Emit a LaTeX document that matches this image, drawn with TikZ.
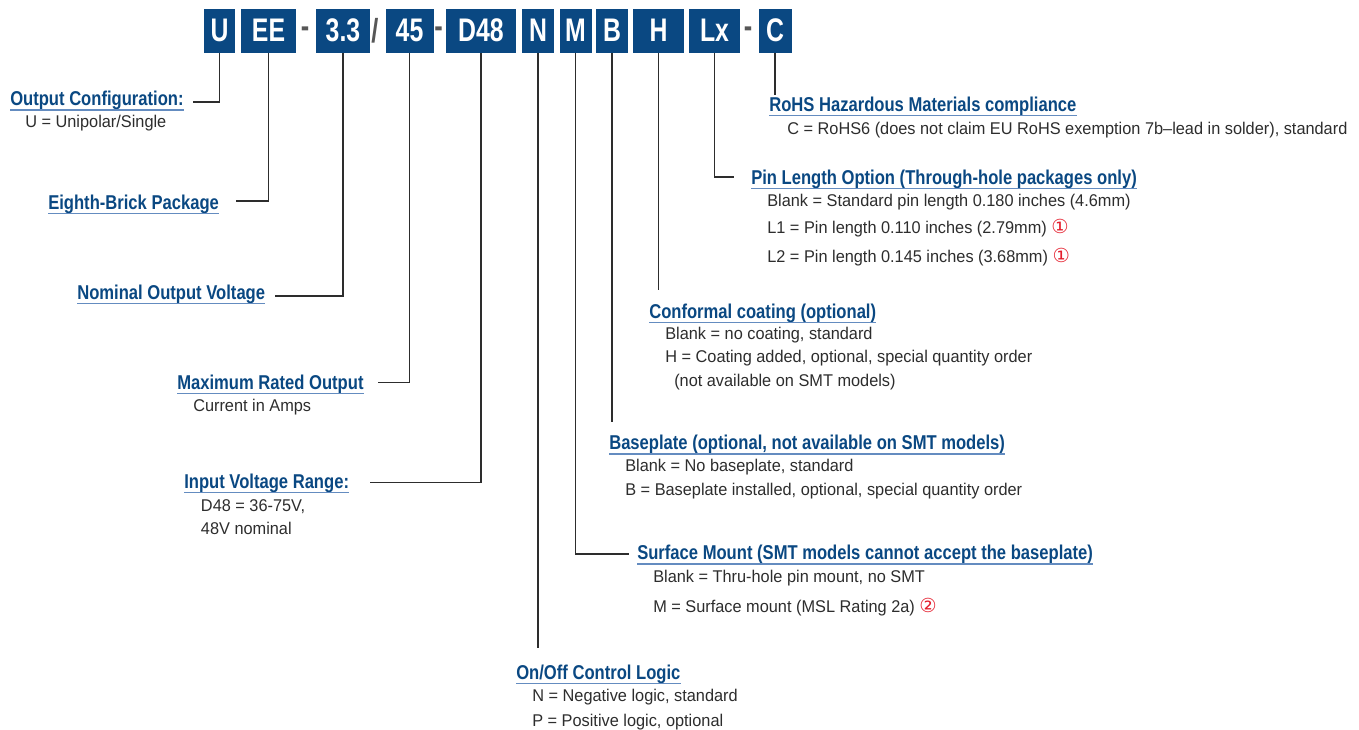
\documentclass[tikz,border=0pt]{standalone}
\usepackage{fontspec}
\setmainfont{Liberation Sans}
\newfontfamily\titlefont{Liberation Sans}[FakeStretch=0.83]
\newfontfamily\codefont{Liberation Sans}[FakeStretch=0.76]
\newfontfamily\bodyfont{Liberation Sans}[FakeStretch=0.96]
\newfontfamily\symfont{DejaVu Sans}
\usetikzlibrary{calc}
\definecolor{navy}{RGB}{10,72,130}
\definecolor{ulblue}{RGB}{100,140,192}
\definecolor{ink}{RGB}{45,45,45}
\definecolor{alertred}{RGB}{228,30,45}
\def\circnum#1{{\symfont\fontsize{14.5}{14.5}\selectfont\color{alertred}\raisebox{-0.5pt}{#1}}}

\begin{document}
\begin{tikzpicture}[x=0.75pt,y=-0.75pt,
	codebox/.style={fill=navy,text=white,inner sep=0pt,minimum height=33pt,
		font=\codefont\bfseries\fontsize{24.5}{24.5}\selectfont},
	sepmark/.style={text=ink!80,inner sep=0pt,font=\codefont\bfseries\fontsize{25}{25}\selectfont},
	title/.style={anchor=base west,inner sep=0pt,text=navy,font=\titlefont\bfseries\fontsize{15}{15}\selectfont},
	body/.style={anchor=base west,inner sep=0pt,text=ink,font=\bodyfont\fontsize{12.75}{12.75}\selectfont},
	uline/.style={draw=ulblue,line width=1.1pt},
	link/.style={draw=ink,line width=1pt}]
	%%%%% START %%%%%
	\useasboundingbox (0,0) rectangle (1359,729);
	
	% part number boxes
	\foreach \nm/\txt/\cx/\w in {U/U/219.5/23.25, EE/EE/268.5/41.25, V/3.3/343/40.5,
		A/45/409.5/36, D/D48/481/52.5, N/N/538/24, M/M/575.5/24, B/B/612/24,
		H/H/658.5/38.25, L/Lx/714.5/38.25, C/C/775/24.75}
	\node[codebox,minimum width=\w pt] (b\nm) at (\cx,30.5) {\txt};
	
	\node[sepmark] (s1) at (305,32) {-};
	\node[sepmark] (s2) at (375,30.5) {/};
	\node[sepmark] (s3) at (438.5,32) {-};
	\node[sepmark] (s4) at (748,32) {-};
	
	% left side
	\node[title] (tOut) at (10,105.5) {Output Configuration:};
	\node[body] (dOut) at (25,127.7) {U = Unipolar/Single};
	
	\node[title] (tPkg) at (48,209) {Eighth-Brick Package};
	
	\node[title] (tVolt) at (77,299) {Nominal Output Voltage};
	
	\node[title] (tAmp) at (177,389) {Maximum Rated Output};
	\node[body] (dAmp) at (193,411) {Current in Amps};
	
	\node[title] (tIn) at (184,488) {Input Voltage Range:};
	\node[body] (dIn1) at (200.7,511) {D48 = 36-75V,};
	\node[body] (dIn2) at (200.7,534) {48V nominal};
	
	% right side
	\node[title] (tRohs) at (769,111) {RoHS Hazardous Materials compliance};
	\node[body] (dRohs) at (787,134) {C = RoHS6 (does not claim EU RoHS exemption 7b–lead in solder), standard};
	
	\node[title] (tPin) at (751,184) {Pin Length Option (Through-hole packages only)};
	\node[body] (dPin1) at (767,206) {Blank = Standard pin length 0.180 inches (4.6mm)};
	\node[body] (dPin2) at (767,233) {L1 = Pin length 0.110 inches (2.79mm) \circnum{①}};
	\node[body] (dPin3) at (767,262) {L2 = Pin length 0.145 inches (3.68mm) \circnum{①}};
	
	\node[title] (tCoat) at (649,318) {Conformal coating (optional)};
	\node[body] (dCoat1) at (665,339) {Blank = no coating, standard};
	\node[body] (dCoat2) at (665,362) {H = Coating added, optional, special quantity order};
	\node[body] (dCoat3) at (674,386) {(not available on SMT models)};
	
	\node[title] (tBase) at (609,449.5) {Baseplate (optional, not available on SMT models)};
	\node[body] (dBase1) at (625,471) {Blank = No baseplate, standard};
	\node[body] (dBase2) at (625,495) {B = Baseplate installed, optional, special quantity order};
	
	\node[title] (tSmt) at (637,559.5) {Surface Mount (SMT models cannot accept the baseplate)};
	\node[body] (dSmt1) at (653,582) {Blank = Thru-hole pin mount, no SMT};
	\node[body] (dSmt2) at (653,612) {M = Surface mount (MSL Rating 2a) \circnum{②}};
	
	\node[title] (tLog) at (516,679) {On/Off Control Logic};
	\node[body] (dLog1) at (532,701.5) {N = Negative logic, standard};
	\node[body] (dLog2) at (532,726) {P = Positive logic, optional};
	
	% underlines
	\foreach \t in {tOut,tPkg,tVolt,tAmp,tIn,tRohs,tPin,tCoat,tBase,tSmt,tLog}
	\draw[uline] ([yshift=-3.3pt]\t.base west) -- ([yshift=-3.3pt]\t.base east);
	
	% connectors
	\coordinate (eU) at (193,102);
	\coordinate (eEE) at (236,201);
	\coordinate (eV) at (275,296);
	\coordinate (eA) at (378,382.7);
	\coordinate (eD) at (370,482.7);
	\coordinate (eN) at (538,648);
	\coordinate (eM) at (629,554);
	\coordinate (eB) at (612,422);
	\coordinate (eH) at (658.5,290);
	\coordinate (eL) at (734,177);
	\coordinate (eC) at (775,95);
	
	\draw[link] (bU.south) |- (eU);
	\draw[link] (bEE.south) |- (eEE);
	\draw[link] (bV.south) |- (eV);
	\draw[link] (bA.south) |- (eA);
	\draw[link] (bD.south) |- (eD);
	\draw[link] (bN.south) -- (eN);
	\draw[link] (bM.south) |- (eM);
	\draw[link] (bB.south) -- (eB);
	\draw[link] (bH.south) -- (eH);
	\draw[link] (bL.south) |- (eL);
	\draw[link] (bC.south) -- (eC);
	
	%%%%% END %%%%%
\end{tikzpicture}
\end{document}
